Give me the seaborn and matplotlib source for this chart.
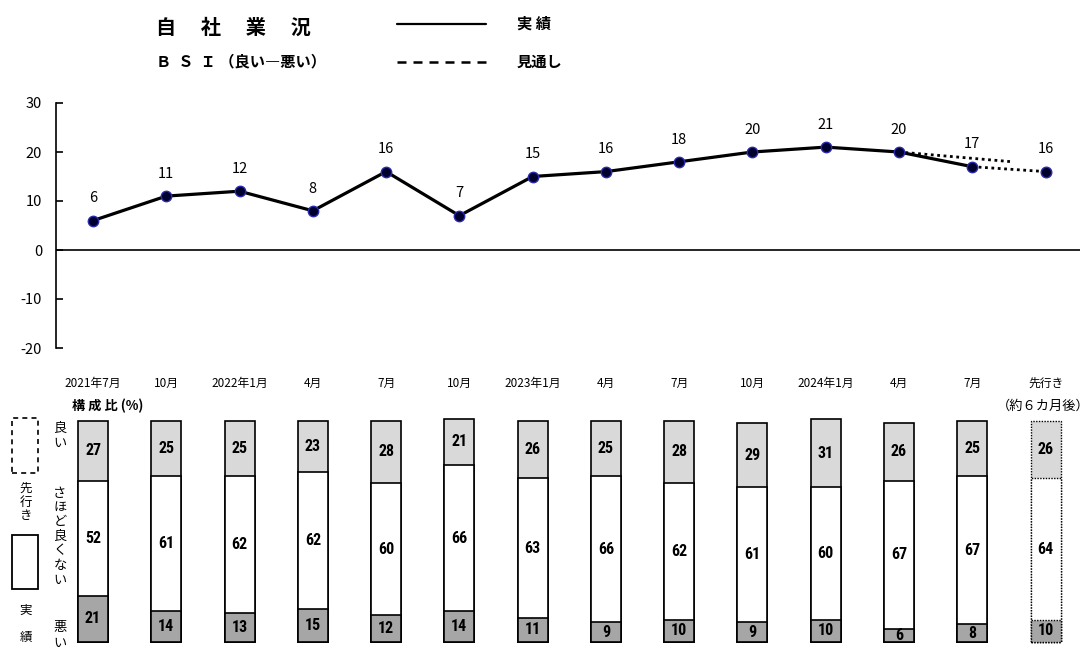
import numpy as np
import pandas as pd
import matplotlib
matplotlib.use("Agg")
import matplotlib.pyplot as plt
import matplotlib.transforms as mtrans
from matplotlib.lines import Line2D
from matplotlib.patches import Rectangle
from matplotlib import font_manager
import seaborn as sns

# ---------------- data ----------------
periods = ["2021年7月", "10月", "2022年1月", "4月", "7月", "10月", "2023年1月",
           "4月", "7月", "10月", "2024年1月", "4月", "7月", "先行き"]
bsi_actual = [6, 11, 12, 8, 16, 7, 15, 16, 18, 20, 21, 20, 17]
bsi_outlook = 16
prev_outlook_x = [11, 12.55]
prev_outlook_y = [20, 18]
share_good = [27, 25, 25, 23, 28, 21, 26, 25, 28, 29, 31, 26, 25, 26]
share_mid = [52, 61, 62, 62, 60, 66, 63, 66, 62, 61, 60, 67, 67, 64]
share_bad = [21, 14, 13, 15, 12, 14, 11, 9, 10, 9, 10, 6, 8, 10]
yticks = [-20, -10, 0, 10, 20, 30]

# ---------------- style ----------------
sns.set_theme(style="white")
plt.rcParams['font.family'] = ['Noto Sans CJK JP', 'DejaVu Sans']
plt.rcParams['axes.unicode_minus'] = False
plt.rcParams['text.color'] = 'black'
plt.rcParams['xtick.color'] = 'black'
plt.rcParams['ytick.color'] = 'black'
plt.rcParams['axes.labelcolor'] = 'black'

names = {f.name for f in font_manager.fontManager.ttflist}
num_family = ['Liberation Sans', 'DejaVu Sans']
for cand in ['Liberation Sans Narrow', 'Roboto Condensed', 'DejaVu Sans Condensed']:
    if cand in names:
        num_family = [cand, 'DejaVu Sans']
        break

W, H = 1092, 648
fig = plt.figure(figsize=(W / 100, H / 100), dpi=100)


def fx(px):
    return px / W


def fy(py):
    return 1 - py / H


xlim = (-0.505, 13.47)

# ---------------- line chart ----------------
ax1 = fig.add_axes([fx(56), fy(348), fx(1080) - fx(56), fy(103) - fy(348)])
n_act = len(bsi_actual)
xs_act = np.arange(n_act)
dot_ls = (0, (1, 1.3))
ax1.plot(prev_outlook_x, prev_outlook_y, color='black', ls=dot_ls, lw=2.0, zorder=2)
ax1.plot([n_act - 1, n_act], [bsi_actual[-1], bsi_outlook], color='black',
         ls=dot_ls, lw=2.0, zorder=2)
sns.lineplot(x=xs_act, y=bsi_actual, ax=ax1, color='black', lw=2.3, marker='o',
             markersize=7.5, markerfacecolor='#00002e', markeredgecolor='#2a2ab0',
             markeredgewidth=1.0, zorder=3)
sns.scatterplot(x=[n_act], y=[bsi_outlook], ax=ax1, s=58, color='#00002e',
                edgecolor='#2a2ab0', linewidth=1.0, zorder=4)
ax1.axhline(0, color='black', lw=1.2, zorder=1)

all_vals = bsi_actual + [bsi_outlook]
for i, v in enumerate(all_vals):
    ax1.annotate(str(v), (i, v), xytext=(0, 16), textcoords='offset points',
                 ha='center', va='center', fontsize=10.5, color='black')

ax1.set_xlim(xlim)
ax1.set_ylim(-20, 30)
ax1.set_yticks(yticks)
ax1.set_yticklabels([str(t) for t in yticks])
ax1.set_xticks([])
ax1.set_xlabel('')
ax1.set_ylabel('')
for s in ['top', 'right', 'bottom']:
    ax1.spines[s].set_visible(False)
ax1.spines['left'].set_color('black')
ax1.spines['left'].set_linewidth(1.2)
ax1.tick_params(axis='y', direction='in', length=5, width=1.2, color='black',
                labelsize=10.5, pad=10, left=True, labelcolor='black')
ax1.set_facecolor('white')

# ---------------- stacked bars ----------------
ax2 = fig.add_axes([fx(56), fy(642), fx(1080) - fx(56), fy(421) - fy(642)])
n = len(periods)
xb = np.arange(n)
good = np.array(share_good)
mid = np.array(share_mid)
bad = np.array(share_bad)
layers = [(good + mid + bad, '#d9d9d9'), (mid + bad, 'white'), (bad, '#a6a6a6')]
for heights, col in layers:
    df = pd.DataFrame({'x': xb, 'y': heights})
    sns.barplot(data=df, x='x', y='y', native_scale=True, orient='x', width=0.41,
                color=col, saturation=1, edgecolor='black', linewidth=1.2,
                errorbar=None, ax=ax2)

for p in ax2.patches:
    p.set_clip_on(False)
    cx = p.get_x() + p.get_width() / 2
    if abs(cx - (n - 1)) < 0.1:
        p.set_linestyle((0, (1, 1)))
        p.set_linewidth(1.0)

for i in range(n):
    for yv, val in [(bad[i] + mid[i] + good[i] / 2, good[i]),
                    (bad[i] + mid[i] / 2, mid[i]),
                    (bad[i] / 2, bad[i])]:
        ax2.text(xb[i], yv, str(val), ha='center', va='center', color='black',
                 fontsize=11.5, fontweight='bold', family=num_family)

ax2.set_xlim(xlim)
ax2.set_ylim(0, 100)
ax2.axis('off')

# x category labels between the panels
tr = mtrans.blended_transform_factory(ax2.transData, fig.transFigure)
for i, lab in enumerate(periods):
    ax2.text(xb[i], fy(383), lab, transform=tr, ha='center', va='center',
             fontsize=8.5, color='black')
fig.text(fx(1090), fy(406), "（約６カ月後）", ha='right', va='center', fontsize=9.5)
fig.text(fx(72), fy(406), "構 成 比 (%)", ha='left', va='center', fontsize=9.5,
         fontweight='bold')

# ---------------- header ----------------
fig.text(fx(156), fy(27), "自　 社 　業　 況", ha='left', va='center', fontsize=14.5,
         fontweight='bold')
fig.text(fx(156), fy(61), "Ｂ  Ｓ  Ｉ （良い―悪い）", ha='left', va='center',
         fontsize=11, fontweight='bold')
fig.add_artist(Line2D([fx(397), fx(486)], [fy(24), fy(24)], color='black', lw=1.6))
fig.add_artist(Line2D([fx(397), fx(486)], [fy(62), fy(62)], color='black', lw=1.8,
                      ls=(0, (3.6, 2.8))))
fig.text(fx(517), fy(24), "実 績", ha='left', va='center', fontsize=11, fontweight='bold')
fig.text(fx(517), fy(62), "見通し", ha='left', va='center', fontsize=11, fontweight='bold')

# ---------------- left legend ----------------
fig.add_artist(Rectangle((fx(12), fy(473)), fx(38) - fx(12), fy(418) - fy(473),
                         fill=False, ec='black', lw=1.2, ls=(0, (3, 2.5))))
fig.add_artist(Rectangle((fx(12), fy(589)), fx(38) - fx(12), fy(535) - fy(589),
                         fill=False, ec='black', lw=1.3))


def vtext(x_px, y_first_px, s, pitch, size, **kw):
    for k, ch in enumerate(s):
        fig.text(fx(x_px), fy(y_first_px + k * pitch), ch, ha='center', va='center',
                 fontsize=size, **kw)


vtext(26, 488, "先行き", 14, 9)
vtext(26, 610, "実", 13, 9)
vtext(26, 637, "績", 13, 9)
vtext(60, 428, "良い", 15, 9.5)
vtext(60, 493, "さほど良くない", 14.5, 9.5)
vtext(60, 628, "悪い", 15, 9.5)

fig.savefig("out.png", dpi=100, facecolor='white')
